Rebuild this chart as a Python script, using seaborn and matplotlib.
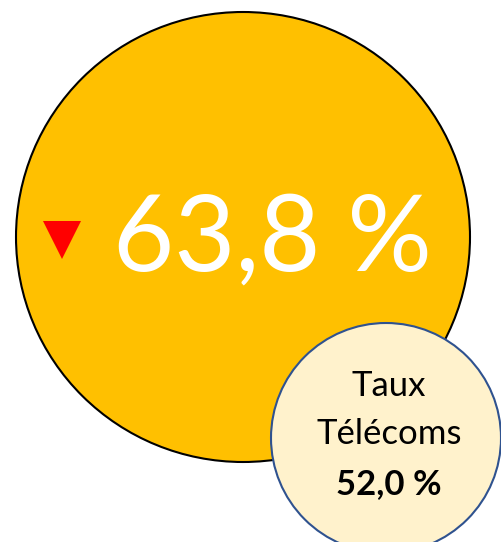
import matplotlib
matplotlib.use("Agg")
import matplotlib.pyplot as plt
from matplotlib.patches import Ellipse
import seaborn as sns

# valeurs du KPI
main_value = 63.8
ref_value = 52.0
ref_label = ["Taux", "Télécoms"]
trend = ["down"]

sns.set_theme(style="white")
plt.rcParams["font.family"] = ["Lato", "DejaVu Sans"]


def fmt_pct(v):
    return f"{v:.1f}".replace(".", ",") + " %"


fig = plt.figure(figsize=(5.02, 5.42), dpi=100)
ax = fig.add_axes([0, 0, 1, 1])
ax.set_xlim(0, 502)
ax.set_ylim(542, 0)
ax.set_aspect("equal")
ax.axis("off")

# grand cercle
ax.add_patch(Ellipse((243, 237), 454, 450, facecolor="#FFC000",
                     edgecolor="black", linewidth=1.5, zorder=1))
ax.text(272, 241, fmt_pct(main_value), color="white", fontsize=76,
        ha="center", va="center", zorder=2)

# indicateur de tendance
sns.scatterplot(x=[62], y=[240], marker="v", s=750, color="#FF0000",
                edgecolor="none", ax=ax, zorder=3, legend=False)

# petit cercle de comparaison
ax.add_patch(Ellipse((386, 438), 230, 230, facecolor="#FFF2CC",
                     edgecolor="#2F528F", linewidth=1.5, zorder=4))
ax.text(389, 386, ref_label[0], fontsize=25, ha="center", va="center",
        color="black", zorder=5)
ax.text(389, 434, ref_label[1], fontsize=25, ha="center", va="center",
        color="black", zorder=5)
ax.text(389, 484, fmt_pct(ref_value), fontsize=25, fontweight="bold",
        ha="center", va="center", color="black", zorder=5)

fig.savefig("out.png", dpi=100)
